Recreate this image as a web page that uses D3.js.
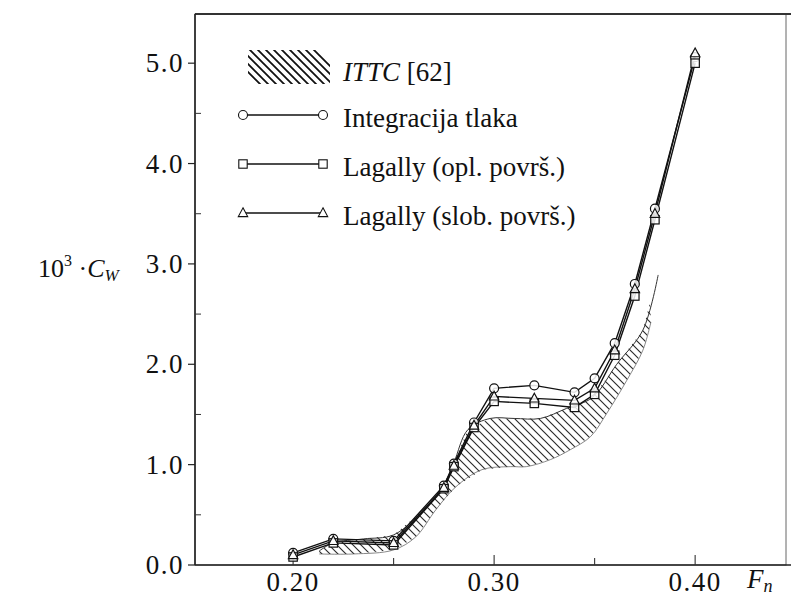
<!DOCTYPE html>
<html><head><meta charset="utf-8">
<script src="https://cdn.jsdelivr.net/npm/d3@7/dist/d3.min.js"></script>
<style>
html,body{margin:0;padding:0;background:#fff;}
text{font-family:"Liberation Serif","Times New Roman",serif;fill:#111;}
</style></head>
<body>
<svg id="chart" width="791" height="597"></svg>
<script>
// ---- data ----
const froude = [0.20, 0.22, 0.25, 0.275, 0.28, 0.29, 0.30, 0.32, 0.34, 0.35, 0.36, 0.37, 0.38, 0.40];
const pressureIntegration = [0.12, 0.26, 0.24, 0.79, 1.01, 1.42, 1.76, 1.79, 1.72, 1.86, 2.21, 2.80, 3.55, 5.06];
const lagallyOpl = [0.08, 0.22, 0.20, 0.76, 0.98, 1.37, 1.63, 1.61, 1.57, 1.70, 2.09, 2.68, 3.44, 5.00];
const lagallySlob = [0.10, 0.24, 0.22, 0.77, 0.99, 1.39, 1.68, 1.66, 1.64, 1.76, 2.14, 2.75, 3.50, 5.10];

const ittcUpperFn = [0.213, 0.22, 0.235, 0.25, 0.265, 0.275, 0.28, 0.287, 0.298, 0.31, 0.323, 0.336, 0.349, 0.361, 0.374, 0.3816];
const ittcUpper   = [0.14, 0.22, 0.26, 0.30, 0.55, 0.80, 1.02, 1.35, 1.46, 1.46, 1.46, 1.56, 1.67, 2.00, 2.34, 2.89];
const ittcLowerFn = [0.213, 0.23, 0.25, 0.261, 0.271, 0.281, 0.294, 0.308, 0.316, 0.328, 0.338, 0.348, 0.356, 0.366, 0.374, 0.378];
const ittcLower   = [0.11, 0.11, 0.15, 0.28, 0.55, 0.78, 0.95, 0.98, 0.98, 1.05, 1.15, 1.28, 1.51, 1.84, 2.14, 2.42];

const xTicks = [0.20, 0.25, 0.30, 0.35, 0.40];
const xTickLabels = ["0.20", "", "0.30", "", "0.40"];
const yTicks = [0, 1, 2, 3, 4, 5];
const yTickLabels = ["0.0", "1.0", "2.0", "3.0", "4.0", "5.0"];
const yMinorTicks = [0.5, 1.5, 2.5, 3.5, 4.5];

const seriesNames = ["Integracija tlaka", "Lagally (opl. površ.)", "Lagally (slob. površ.)"];
const seriesMarkers = ["circle", "square", "triangle"];
const ittcLabel = ["ITTC", " [62]"];

// ---- layout ----
const svg = d3.select("#chart");
const x = d3.scaleLinear().domain([0.1512, 0.4452]).range([195, 786]);
const y = d3.scaleLinear().domain([0, 5.49]).range([565, 14]);

const defs = svg.append("defs");
const pat = defs.append("pattern").attr("id","hatch").attr("patternUnits","userSpaceOnUse")
  .attr("width",8).attr("height",8);
pat.append("path").attr("d","M-1,-1 L9,9 M-9,-1 L1,9 M7,-1 L17,9").attr("stroke","#2a2a2a").attr("stroke-width",1.15);
const pat2 = defs.append("pattern").attr("id","hatchL").attr("patternUnits","userSpaceOnUse")
  .attr("width",8).attr("height",8);
pat2.append("path").attr("d","M-1,-1 L9,9 M-9,-1 L1,9 M7,-1 L17,9").attr("stroke","#111").attr("stroke-width",1.8);

// frame
svg.append("rect").attr("x", x.range()[0]).attr("y", y.range()[1])
  .attr("width", x.range()[1]-x.range()[0]).attr("height", y.range()[0]-y.range()[1])
  .attr("fill","none").attr("stroke","#666").attr("stroke-width",1);
svg.append("line").attr("x1",x.range()[0]).attr("x2",791).attr("y1",y.range()[1]).attr("y2",y.range()[1])
  .attr("stroke","#333").attr("stroke-width",1.8);
svg.append("line").attr("x1",x.range()[0]).attr("x2",791).attr("y1",y(0)).attr("y2",y(0))
  .attr("stroke","#222").attr("stroke-width",1.5);
svg.append("line").attr("x1",x.range()[0]).attr("x2",x.range()[0]).attr("y1",y.range()[1]).attr("y2",y(0))
  .attr("stroke","#222").attr("stroke-width",1.6);

// y ticks
const yAxis = svg.append("g");
yTicks.forEach((v,i)=>{
  yAxis.append("line").attr("x1",x.range()[0]-7).attr("x2",x.range()[0]).attr("y1",y(v)).attr("y2",y(v))
    .attr("stroke","#222").attr("stroke-width",1.2);
  yAxis.append("text").attr("x",x.range()[0]-11).attr("y",y(v)+9).attr("text-anchor","end")
    .attr("font-size",27).attr("letter-spacing",1.5).text(yTickLabels[i]);
});
yMinorTicks.forEach(v=>{
  yAxis.append("line").attr("x1",x.range()[0]).attr("x2",x.range()[0]+6).attr("y1",y(v)).attr("y2",y(v))
    .attr("stroke","#333").attr("stroke-width",1);
});
// x ticks
xTicks.forEach((v,i)=>{
  svg.append("line").attr("x1",x(v)).attr("x2",x(v)).attr("y1",y(0)).attr("y2",y(0)-(xTickLabels[i]?10:7))
    .attr("stroke","#333").attr("stroke-width",1.1);
  if (xTickLabels[i]) svg.append("text").attr("x",x(v)).attr("y",591).attr("text-anchor","middle")
    .attr("font-size",27).attr("letter-spacing",1.5).text(xTickLabels[i]);
});

// axis titles
const yl = svg.append("text").attr("x",38).attr("y",277).attr("font-size",26);
yl.append("tspan").text("10");
yl.append("tspan").attr("font-size",16).attr("dy",-11).text("3");
yl.append("tspan").attr("dy",11).text(" \u00B7");
yl.append("tspan").attr("font-style","italic").text("C");
yl.append("tspan").attr("font-style","italic").attr("font-size",17).attr("dy",4).text("W");

const xl = svg.append("text").attr("x",747).attr("y",588).attr("font-size",27);
xl.append("tspan").attr("font-style","italic").text("F");
xl.append("tspan").attr("font-style","italic").attr("font-size",18).attr("dy",4).text("n");

// ITTC band
const upperPts = ittcUpperFn.map((f,i)=>[f, ittcUpper[i]]);
const lowerPts = ittcLowerFn.map((f,i)=>[f, ittcLower[i]]);
const bandPts = upperPts.filter(p=>p[0] <= 0.3785).concat([[0.3776, 2.62]]).concat(lowerPts.slice().reverse());
const lineGen = d3.line().x(d=>x(d[0])).y(d=>y(d[1])).curve(d3.curveCatmullRom.alpha(0.5));
svg.append("path").attr("d", d3.line().x(d=>x(d[0])).y(d=>y(d[1]))(bandPts) + "Z")
  .attr("fill","url(#hatch)").attr("stroke","none");
svg.append("path").attr("d", lineGen(upperPts)).attr("fill","none").attr("stroke","#333").attr("stroke-width",1);
svg.append("path").attr("d", lineGen(lowerPts)).attr("fill","none").attr("stroke","#555").attr("stroke-width",0.7);

// series
const seriesVals = [pressureIntegration, lagallyOpl, lagallySlob];
function drawMarker(g, type, cx, cy){
  if (type==="circle") g.append("circle").attr("cx",cx).attr("cy",cy).attr("r",4.5);
  else if (type==="square") g.append("rect").attr("x",cx-4.2).attr("y",cy-4.2).attr("width",8.4).attr("height",8.4);
  else g.append("path").attr("d",`M${cx},${cy-5.2} L${cx+4.7},${cy+3.6} L${cx-4.7},${cy+3.6} Z`);
}
const straight = d3.line().x(d=>x(d[0])).y(d=>y(d[1]));
seriesVals.forEach((vals,si)=>{
  const pts = froude.map((f,i)=>[f, vals[i]]);
  svg.append("path").attr("d", straight(pts)).attr("fill","none").attr("stroke","#111").attr("stroke-width",1.4);
});
seriesVals.forEach((vals,si)=>{
  const g = svg.append("g").attr("fill","#fff").attr("fill-opacity",0.85).attr("stroke","#111").attr("stroke-width",1.2);
  froude.forEach((f,i)=>drawMarker(g, seriesMarkers[si], x(f), y(vals[i])));
});

// legend
const lg = svg.append("g");
lg.append("path").attr("d","M248,50 L318,50 L330,62 L330,84 L258,84 L248,74 Z").attr("fill","url(#hatchL)");
const t0 = lg.append("text").attr("x",343).attr("y",81).attr("font-size",27);
t0.append("tspan").attr("font-style","italic").text(ittcLabel[0]);
t0.append("tspan").text(ittcLabel[1]);
const rowY = [115, 164, 213];
seriesNames.forEach((name,i)=>{
  lg.append("line").attr("x1",243).attr("x2",323).attr("y1",rowY[i]).attr("y2",rowY[i])
    .attr("stroke","#111").attr("stroke-width",1.3);
  const g = lg.append("g").attr("fill","#fff").attr("stroke","#111").attr("stroke-width",1.1);
  drawMarker(g, seriesMarkers[i], 243, rowY[i]);
  drawMarker(g, seriesMarkers[i], 323, rowY[i]);
  lg.append("text").attr("x",343).attr("y",rowY[i]+12).attr("font-size",27).text(name);
});
</script>
</body></html>
